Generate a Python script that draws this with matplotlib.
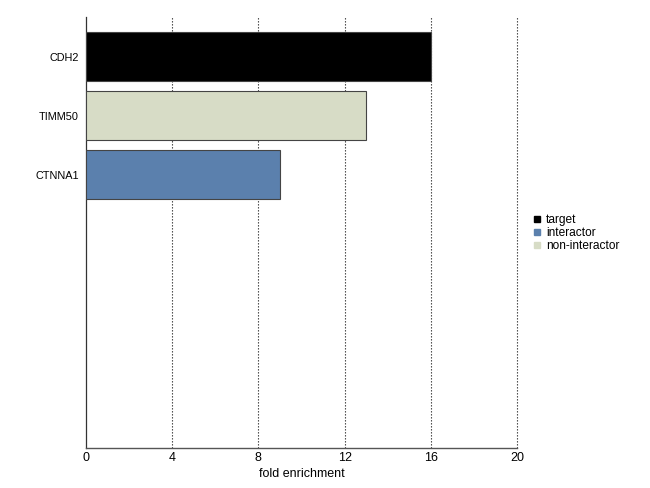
import matplotlib
matplotlib.use("Agg")
import matplotlib.pyplot as plt
from matplotlib.lines import Line2D

plt.rcParams['font.family'] = ['Liberation Sans', 'DejaVu Sans']

genes = ["CDH2", "TIMM50", "CTNNA1"]
enrichment = [16, 13, 9]
roles = ["target", "non-interactor", "interactor"]
n_slots = 7
xticks = [0, 4, 8, 12, 16, 20]

role_colors = {"target": "#000000", "interactor": "#5b80ad", "non-interactor": "#d7dcc6"}
legend_order = ["target", "interactor", "non-interactor"]

fig = plt.figure(figsize=(6.5, 4.88), dpi=100)
ax = fig.add_axes([0.1323, 0.082, 0.6631, 0.883])

for i, (g, v, r) in enumerate(zip(genes, enrichment, roles)):
    ax.barh(i, v, height=0.83, color=role_colors[r], edgecolor="#444444", linewidth=0.8, zorder=3)

ax.set_xlim(0, 20)
ax.set_ylim(n_slots - 1 + 0.62, -0.67)
ax.set_xticks(xticks)
ax.set_xticklabels([str(t) for t in xticks], fontsize=9)
ax.set_yticks(range(n_slots))
ax.set_yticklabels(genes + [""] * (n_slots - len(genes)), fontsize=7.8)
ax.tick_params(axis="both", length=0, pad=3)
ax.tick_params(axis="y", pad=5)

for t in xticks[1:]:
    ax.axvline(t, color="#333333", linestyle=(0, (1.2, 1.5)), linewidth=0.8, zorder=1, clip_on=False)

for s in ["top", "right"]:
    ax.spines[s].set_visible(False)
ax.spines["left"].set_color("#333333")
ax.spines["left"].set_linewidth(0.9)
ax.spines["bottom"].set_color("#555555")
ax.spines["bottom"].set_linewidth(1.0)

ax.set_xlabel("fold enrichment", fontsize=9, labelpad=3)

handles = [Line2D([0], [0], marker="s", linestyle="", markersize=4.5,
                  markerfacecolor=role_colors[r], markeredgecolor=role_colors[r]) for r in legend_order]
fig.legend(handles, legend_order, loc="upper left", bbox_to_anchor=(0.8, 0.583),
           frameon=False, fontsize=8.6, handletextpad=0.3, labelspacing=0.09, handlelength=1.0)

fig.savefig("out.png", dpi=100)
